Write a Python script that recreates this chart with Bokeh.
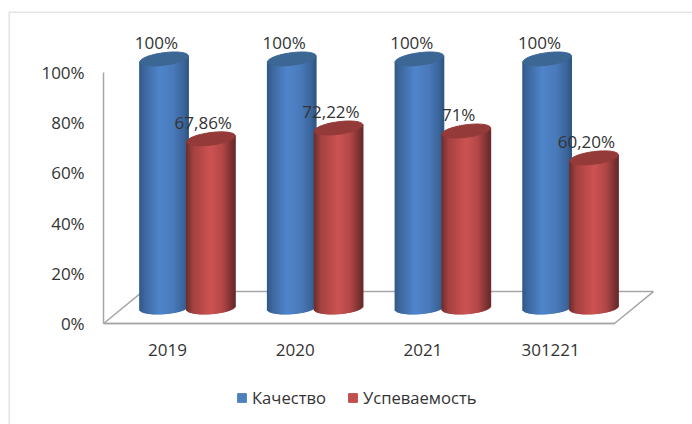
from bokeh.plotting import figure
from bokeh.models import Range1d, FixedTicker, BoxAnnotation, Legend, LegendItem
from bokeh.core.properties import value
from bokeh.embed import file_html
from bokeh.resources import INLINE
import numpy as np

categories = ["2019", "2020", "2021", "301221"]
quality = [100, 100, 100, 100]
progress = [67.86, 72.22, 71, 60.20]
quality_labels = ["100%", "100%", "100%", "100%"]
progress_labels = ["67,86%", "72,22%", "71%", "60,20%"]
series_names = ["Качество", "Успеваемость"]
y_ticks = [0, 20, 40, 60, 80, 100]

FONT = "Open Sans"
TXT = "#333333"
GRAY = "#a6a6a6"
BLUE = "#4f81bd"
RED = "#c0504d"

W, H = 692, 424
PX_X, X0 = 127.7, 167.0   # px per group, px of first group
PX_Y, Y0 = 2.51, 323.0    # px per percent, px of 0%

p = figure(width=W, height=H, output_backend="svg", toolbar_location=None,
           x_range=Range1d(-X0 / PX_X, (W - X0) / PX_X),
           y_range=Range1d(-(H - Y0) / PX_Y, Y0 / PX_Y),
           min_border=0)
p.outline_line_color = None
p.grid.visible = False
p.background_fill_color = "white"

# outer chart frame
p.add_layout(BoxAnnotation(left=8.7, right=800, top=11.7, bottom=600,
                           left_units="canvas", right_units="canvas",
                           top_units="canvas", bottom_units="canvas",
                           fill_color=None, line_color=GRAY, line_width=1.5))

# floor of the 3-D box
DX, DY = 0.305, 12.7
p.patch([-0.5, 3.5, 3.5 + DX, -0.5 + DX], [0, 0, DY, DY],
        fill_color="white", line_color=GRAY, line_width=1.5)

BASE = 6.4     # cylinder base level
HALF_W = 0.19
ELL_H = 2.5
TILT = 1.2
BASE_TILT = 0.7


def ramp(stops, t):
    ts = [s[0] for s in stops]
    rgb = [np.interp(t, ts, [s[1][k] for s in stops]) for k in range(3)]
    return "#%02x%02x%02x" % tuple(int(round(c)) for c in rgb)


BLUE_STOPS = [(0, (50, 88, 135)), (0.12, (62, 105, 160)), (0.42, (80, 133, 203)),
              (0.7, (74, 122, 186)), (0.93, (58, 100, 152)), (1, (48, 85, 130))]
RED_STOPS = [(0, (108, 44, 44)), (0.15, (165, 66, 66)), (0.5, (205, 83, 83)),
             (0.75, (180, 72, 72)), (0.93, (125, 50, 50)), (1, (105, 42, 42))]


def cylinder(cx, val, stops, top_col):
    n = 48
    edges = np.linspace(-1, 1, n + 1)
    lefts = cx + HALF_W * edges[:-1]
    rights = cx + HALF_W * edges[1:]
    mids = (edges[:-1] + edges[1:]) / 2
    top = BASE + val * 0.99 + TILT * mids
    bottom = BASE + BASE_TILT * mids - ELL_H * np.sqrt(1 - mids ** 2)
    cols = [ramp(stops, (m + 1) / 2) for m in mids]
    p.quad(left=lefts, right=rights, top=top, bottom=bottom, fill_color=cols, line_color=cols, line_width=1.2)
    th = np.linspace(0, 2 * np.pi, 60)
    p.patch(cx + HALF_W * np.cos(th),
            BASE + val * 0.99 + TILT * np.cos(th) + ELL_H * np.sin(th),
            fill_color=top_col, line_color=top_col)


for i in range(len(categories)):
    bx, rx = i - 0.027, i + 0.34
    cylinder(bx, quality[i], BLUE_STOPS, "#3c6694")
    cylinder(rx, progress[i], RED_STOPS, "#943a38")
    for cx, v, lab in ((bx, quality[i], quality_labels[i]), (rx, progress[i], progress_labels[i])):
        p.text([cx - 0.06], [BASE + v * 0.99], text=[lab], text_align="center", text_baseline="middle",
               y_offset=-16.5, text_font=value(FONT), text_font_size="17px", text_color=TXT)

for ax in (p.xaxis[0], p.yaxis[0]):
    ax.major_tick_line_color = None
    ax.minor_tick_line_color = None
    ax.axis_line_color = GRAY
    ax.axis_line_width = 1.5
    ax.major_label_text_font = FONT
    ax.major_label_text_font_size = "17px"
    ax.major_label_text_color = TXT

p.yaxis.ticker = FixedTicker(ticks=y_ticks)
p.yaxis.bounds = (0, 100)
p.yaxis.fixed_location = -0.5
p.yaxis.major_label_overrides = {t: f"{t}%" for t in y_ticks}
p.yaxis.major_label_standoff = 13
p.xaxis.ticker = FixedTicker(ticks=list(range(len(categories))))
p.xaxis.major_label_overrides = {i: c for i, c in enumerate(categories)}
p.xaxis.bounds = (-0.5, 3.5)
p.xaxis.fixed_location = 0
p.xaxis.major_label_standoff = 14

nan = float("nan")
r_b = p.quad(left=[nan], right=[nan], top=[nan], bottom=[nan], fill_color=BLUE, line_color=BLUE)
r_r = p.quad(left=[nan], right=[nan], top=[nan], bottom=[nan], fill_color=RED, line_color=RED)
legend = Legend(items=[LegendItem(label=series_names[0], renderers=[r_b], index=0),
                       LegendItem(label=series_names[1], renderers=[r_r], index=0)],
                orientation="horizontal", location=(236, 15),
                glyph_width=11, glyph_height=11, spacing=21, label_standoff=5,
                padding=0, margin=0, border_line_color=None, background_fill_alpha=0,
                label_text_font=FONT, label_text_font_size="16.6px", label_text_color=TXT)
p.add_layout(legend, "center")

open("out.html", "w").write(file_html(p, INLINE))
